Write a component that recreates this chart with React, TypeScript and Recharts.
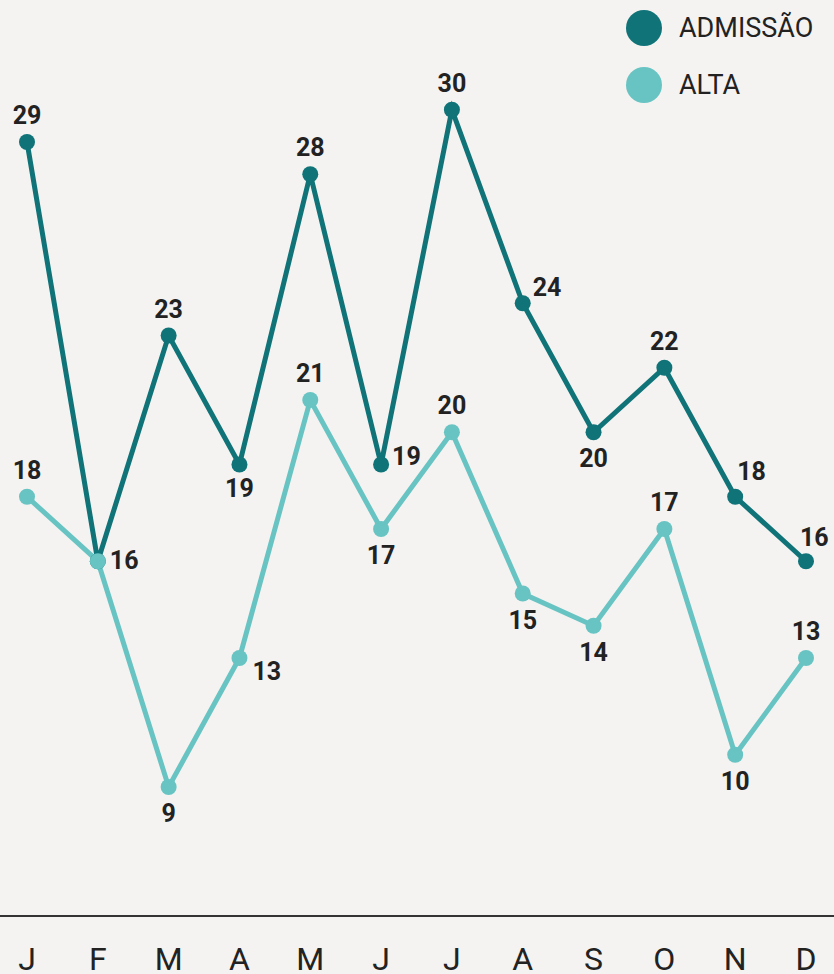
import React from 'react';
import { LineChart, Line, XAxis, YAxis, LabelList } from 'recharts';

const months = ['J', 'F', 'M', 'A', 'M', 'J', 'J', 'A', 'S', 'O', 'N', 'D'];
const admissao = [29, 16, 23, 19, 28, 19, 30, 24, 20, 22, 18, 16];
const alta = [18, 16, 9, 13, 21, 17, 20, 15, 14, 17, 10, 13];

// where each value label sits around its dot
const admissaoLabelPos = ['top', 'right', 'top', 'bottomNear', 'top', 'rightBase', 'top', 'rightUp', 'bottom', 'top', 'upRight', 'upRightNear'];
const altaLabelPos = ['top', 'none', 'bottom', 'rightDown', 'top', 'bottom', 'top', 'bottom', 'bottom', 'top', 'bottom', 'top'];

const DARK = '#0f7378';
const LIGHT = '#68c4c3';
const BG = '#f4f3f1';
const FONT = 'Roboto, "Noto Sans", sans-serif';

const OFFSETS: Record<string, { dx: number; dy: number; anchor: 'start' | 'middle' }> = {
  top: { dx: 0, dy: -18, anchor: 'middle' },
  bottom: { dx: 0, dy: 35, anchor: 'middle' },
  bottomNear: { dx: 0, dy: 32, anchor: 'middle' },
  right: { dx: 12, dy: 8, anchor: 'start' },
  rightBase: { dx: 11, dy: 0, anchor: 'start' },
  rightUp: { dx: 10, dy: -7, anchor: 'start' },
  rightDown: { dx: 13, dy: 22, anchor: 'start' },
  upRight: { dx: 2, dy: -17, anchor: 'start' },
  upRightNear: { dx: -6, dy: -15, anchor: 'start' },
};

const data = months.map((m, i) => ({ month: m, idx: i, admissao: admissao[i], alta: alta[i] }));

const makeLabel = (positions: string[]) => (props: any) => {
  const { x, y, value, index } = props;
  const pos = positions[index];
  if (!pos || pos === 'none') return null;
  const o = OFFSETS[pos];
  return (
    <text
      x={x + o.dx}
      y={y + o.dy}
      textAnchor={o.anchor}
      fontFamily={FONT}
      fontWeight={700}
      fontSize={25}
      fill="#222"
    >
      {value}
    </text>
  );
};

const MonthTick = (props: any) => {
  const { x, y, payload } = props;
  return (
    <text x={x} y={y + 54} textAnchor="middle" fontFamily={FONT} fontSize={32} fill="#222">
      {months[payload.value]}
    </text>
  );
};

const LegendBox = () => {
  const items = [
    { name: 'ADMISSÃO', color: DARK },
    { name: 'ALTA', color: LIGHT },
  ];
  return (
    <div style={{ position: 'absolute', top: 10, left: 626 }}>
      {items.map((it, i) => (
        <div
          key={it.name}
          style={{ display: 'flex', alignItems: 'center', height: 36, marginBottom: i === 0 ? 21 : 0 }}
        >
          <svg width={36} height={36} style={{ display: 'block' }}>
            <circle cx={18} cy={18} r={18} fill={it.color} />
          </svg>
          <span
            style={{ marginLeft: 17, fontFamily: FONT, fontSize: 27, color: '#222', lineHeight: '36px' }}
          >
            {it.name}
          </span>
        </div>
      ))}
    </div>
  );
};

export default function App() {
  return (
    <div style={{ position: 'fixed', top: 0, left: 0, width: 834, height: 974, background: BG }}>
      <LineChart width={834} height={974} data={data} margin={{ top: 13, right: 0, left: 0, bottom: 0 }}>
        <XAxis
          dataKey="idx"
          tick={<MonthTick />}
          height={58}
          tickSize={0}
          tickMargin={0}
          tickLine={false}
          axisLine={{ stroke: '#333', strokeWidth: 2 }}
          padding={{ left: 27, right: 28 }}
          interval={0}
        />
        <YAxis hide domain={[5, 33]} type="number" allowDataOverflow />
        <Line
          dataKey="admissao"
          name="ADMISSÃO"
          stroke={DARK}
          strokeWidth={5}
          dot={{ r: 8, fill: DARK, stroke: 'none' }}
          activeDot={false}
          isAnimationActive={false}
        >
          <LabelList dataKey="admissao" content={makeLabel(admissaoLabelPos)} />
        </Line>
        <Line
          dataKey="alta"
          name="ALTA"
          stroke={LIGHT}
          strokeWidth={5}
          dot={{ r: 8, fill: LIGHT, stroke: 'none' }}
          activeDot={false}
          isAnimationActive={false}
        >
          <LabelList dataKey="alta" content={makeLabel(altaLabelPos)} />
        </Line>
      </LineChart>
      <LegendBox />
    </div>
  );
}
